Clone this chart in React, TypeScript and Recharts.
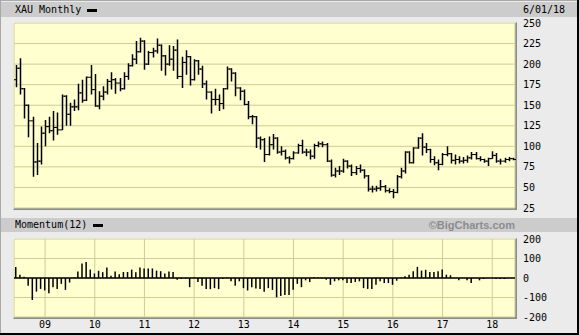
import { Bar, BarChart, CartesianGrid, ComposedChart, ReferenceLine, XAxis, YAxis } from "recharts";

// monthly bars, Jun 2008 .. Jun 2018
const months = [
  "2008-06", "2008-07", "2008-08", "2008-09", "2008-10", "2008-11", "2008-12",
  "2009-01", "2009-02", "2009-03", "2009-04", "2009-05", "2009-06", "2009-07", "2009-08", "2009-09", "2009-10", "2009-11", "2009-12",
  "2010-01", "2010-02", "2010-03", "2010-04", "2010-05", "2010-06", "2010-07", "2010-08", "2010-09", "2010-10", "2010-11", "2010-12",
  "2011-01", "2011-02", "2011-03", "2011-04", "2011-05", "2011-06", "2011-07", "2011-08", "2011-09", "2011-10", "2011-11", "2011-12",
  "2012-01", "2012-02", "2012-03", "2012-04", "2012-05", "2012-06", "2012-07", "2012-08", "2012-09", "2012-10", "2012-11", "2012-12",
  "2013-01", "2013-02", "2013-03", "2013-04", "2013-05", "2013-06", "2013-07", "2013-08", "2013-09", "2013-10", "2013-11", "2013-12",
  "2014-01", "2014-02", "2014-03", "2014-04", "2014-05", "2014-06", "2014-07", "2014-08", "2014-09", "2014-10", "2014-11", "2014-12",
  "2015-01", "2015-02", "2015-03", "2015-04", "2015-05", "2015-06", "2015-07", "2015-08", "2015-09", "2015-10", "2015-11", "2015-12",
  "2016-01", "2016-02", "2016-03", "2016-04", "2016-05", "2016-06", "2016-07", "2016-08", "2016-09", "2016-10", "2016-11", "2016-12",
  "2017-01", "2017-02", "2017-03", "2017-04", "2017-05", "2017-06", "2017-07", "2017-08", "2017-09", "2017-10", "2017-11", "2017-12",
  "2018-01", "2018-02", "2018-03", "2018-04", "2018-05", "2018-06",
];

const opens = [
  181, 195, 170, 150, 131, 81, 82,
  116, 124, 119, 123, 120, 161, 139, 148, 148, 165, 156, 184,
  169, 149, 161, 166, 179, 181, 177, 170, 185, 198, 206, 215,
  228, 200, 214, 216, 223, 210, 200, 206, 217, 185, 202, 209,
  181, 204, 194, 176, 166, 157, 157, 152, 170, 194, 189, 171,
  167, 151, 136, 136, 110, 108, 90, 102, 110, 93, 94, 86,
  85, 92, 101, 93, 93, 88, 101, 103, 102, 82, 65, 70,
  70, 82, 76, 68, 73, 71, 64, 48, 48, 49, 51, 46,
  45, 44, 63, 70, 93, 80, 98, 110, 99, 96, 84, 80,
  78, 90, 91, 83, 84, 82, 83, 86, 90, 85, 84, 82,
  85, 89, 82, 82, 84, 85,
];
const highs = [
  199, 207, 171, 151, 136, 104, 124,
  132, 136, 143, 141, 163, 162, 153, 157, 176, 181, 185, 199,
  188, 167, 173, 182, 190, 183, 183, 190, 201, 212, 228, 232,
  229, 216, 220, 231, 224, 211, 223, 222, 230, 209, 217, 210,
  206, 205, 198, 180, 167, 170, 163, 171, 197, 195, 190, 172,
  169, 155, 138, 137, 112, 110, 112, 115, 111, 100, 96, 88,
  94, 103, 108, 97, 96, 103, 106, 106, 104, 84, 74, 76,
  85, 83, 78, 76, 78, 72, 65, 52, 52, 59, 53, 49,
  48, 65, 74, 94, 94, 99, 111, 116, 104, 97, 88, 84,
  92, 100, 92, 90, 88, 87, 89, 93, 93, 88, 85, 86,
  94, 92, 85, 86, 87, 86,
];
const lows = [
  172, 163, 134, 111, 63, 65, 78,
  100, 116, 107, 114, 120, 125, 125, 143, 144, 153, 155, 163,
  148, 145, 156, 163, 169, 164, 167, 169, 181, 197, 200, 214,
  193, 199, 208, 213, 192, 186, 198, 192, 182, 171, 187, 174,
  180, 187, 171, 157, 140, 150, 143, 145, 169, 179, 161, 156,
  150, 133, 127, 98, 96, 81, 89, 96, 91, 89, 84, 79,
  84, 91, 91, 88, 84, 85, 99, 99, 81, 63, 62, 65,
  68, 73, 64, 65, 68, 61, 45, 44, 45, 46, 44, 43,
  37, 43, 61, 67, 79, 79, 97, 89, 92, 80, 77, 71,
  77, 88, 79, 78, 79, 79, 80, 84, 84, 82, 80, 76,
  85, 80, 78, 80, 82, 83,
];
const closes = [
  195, 170, 150, 131, 81, 82, 116,
  124, 119, 123, 120, 161, 139, 148, 148, 165, 156, 184, 169,
  149, 161, 166, 179, 181, 177, 170, 185, 198, 206, 215, 228,
  200, 214, 216, 223, 210, 200, 206, 217, 185, 202, 209, 181,
  204, 194, 176, 166, 157, 157, 152, 170, 194, 189, 171, 167,
  151, 136, 136, 110, 108, 90, 102, 110, 93, 94, 86, 85,
  92, 101, 93, 93, 88, 101, 103, 102, 82, 65, 70, 70,
  82, 76, 68, 73, 71, 64, 48, 48, 49, 51, 46, 45,
  44, 63, 70, 93, 80, 98, 110, 99, 96, 84, 80, 78,
  90, 91, 83, 84, 82, 83, 86, 90, 85, 84, 82, 85,
  89, 82, 82, 84, 85, 84,
];

// Momentum(12)
const momentum = [
  56, 17, 7, -40, -113, -70, -56,
  -64, -78, -47, -56, -30, -61, -23, 2, 33, 75, 82, 43,
  23, 37, 30, 54, 12, 33, 19, 31, 31, 43, 30, 54,
  49, 49, 49, 38, 35, 23, 33, 31, -9, -5, -3, -47,
  2, -21, -40, -57, -57, -52, -57, -5, 3, -17, -40, -17,
  -52, -64, -47, -54, -56, -70, -52, -61, -99, -92, -87, -87,
  -60, -30, -47, -12, -21, 5, 2, -2, -9, -35, -17, -12,
  -12, -26, -26, -21, -17, -52, -56, -56, -35, -17, -26, -26,
  -35, -14, 3, 9, 17, 35, 57, 38, 42, 31, 31, 35,
  43, 17, 14, 0, -12, 0, -12, -26, 0, -12, -5, 0,
  0, -5, -5, -5, 0, 0,
];

const yearTicks = ["2009-01", "2010-01", "2011-01", "2012-01", "2013-01", "2014-01", "2015-01", "2016-01", "2017-01", "2018-01"];
const priceTicks = [25, 50, 75, 100, 125, 150, 175, 200, 225, 250];
const momTicks = [-200, -100, 0, 100, 200];

const rows = months.map((month, i) => ({
  month,
  open: opens[i],
  high: highs[i],
  low: lows[i],
  close: closes[i],
  momentum: momentum[i],
}));

const MONO = "'DejaVu Sans Mono', monospace";
const GRID = "#cdcd95";
const PLOT_BG = "#ffffd0";
const tickStyle = { fontSize: 10, fontFamily: MONO, fill: "#000" };

// vertical hi-lo line, open tick on the left, close tick on the right
function OhlcBar(props: any) {
  const { x, y, width, height, payload } = props;
  if (payload == null || height == null) return null;
  const cx = Math.round(x + width / 2) + 0.5;
  const span = payload.high - payload.low || 1;
  const yo = y + ((payload.high - payload.open) / span) * height;
  const yc = y + ((payload.high - payload.close) / span) * height;
  return (
    <g>
      <line x1={cx} x2={cx} y1={y} y2={y + height} stroke="#000" strokeWidth={1.5} />
      <line x1={cx - 2.5} x2={cx} y1={yo} y2={yo} stroke="#000" strokeWidth={1} />
      <line x1={cx} x2={cx + 2.5} y1={yc} y2={yc} stroke="#000" strokeWidth={1} />
    </g>
  );
}

function Dash({ left }: { left: number }) {
  return <span style={{ display: "inline-block", width: 10, height: 3, background: "#000", marginLeft: left, verticalAlign: "middle" }} />;
}

export default function App() {
  return (
    <div style={{ position: "absolute", left: 0, top: 0, width: 579, height: 335, background: "#ebebeb", overflow: "hidden", fontFamily: MONO }}>
      {/* outer frame */}
      <div style={{ position: "absolute", left: 0, top: 0, width: 579, height: 1, background: "#a8a8a8" }} />
      <div style={{ position: "absolute", left: 0, top: 0, width: 1, height: 335, background: "#a8a8a8" }} />
      <div style={{ position: "absolute", left: 577, top: 0, width: 2, height: 335, background: "#000" }} />
      <div style={{ position: "absolute", left: 0, top: 333, width: 579, height: 2, background: "#000" }} />

      {/* headers */}
      <div style={{ position: "absolute", left: 1, top: 2, width: 576, height: 15, background: "#cccccc" }} />
      <div style={{ position: "absolute", left: 15, top: 2, height: 15, lineHeight: "15px", fontSize: 10, color: "#000", whiteSpace: "pre" }}>
        XAU Monthly<Dash left={6} />
      </div>
      <div style={{ position: "absolute", left: 523, top: 2, height: 15, lineHeight: "15px", fontSize: 10, color: "#000" }}>6/01/18</div>

      <div style={{ position: "absolute", left: 1, top: 218, width: 576, height: 14, background: "#cccccc" }} />
      <div style={{ position: "absolute", left: 15, top: 218, height: 14, lineHeight: "14px", fontSize: 10, color: "#000", whiteSpace: "pre" }}>
        Momentum(12)<Dash left={6} />
      </div>
      <div style={{ position: "absolute", right: 64, top: 218, height: 14, lineHeight: "14px", fontSize: 11, fontWeight: "bold", fontFamily: "'Liberation Sans', Arial, sans-serif", color: "#8c8c8c" }}>
        ©BigCharts.com
      </div>

      {/* plot wells */}
      <div style={{ position: "absolute", left: 13, top: 22, width: 504, height: 188, boxSizing: "border-box", background: PLOT_BG, borderTop: "1px solid #fff", borderLeft: "1px solid #fff", borderRight: "2px solid #8c8c8c", borderBottom: "2px solid #8c8c8c" }} />
      <div style={{ position: "absolute", left: 13, top: 238, width: 504, height: 81, boxSizing: "border-box", background: PLOT_BG, borderTop: "1px solid #fff", borderLeft: "1px solid #fff", borderRight: "2px solid #8c8c8c", borderBottom: "2px solid #8c8c8c" }} />

      {/* price panel */}
      <div style={{ position: "absolute", left: 0, top: 0 }}>
        <ComposedChart width={579} height={216} data={rows} margin={{ top: 23, right: 0, left: 14, bottom: 8 }} barCategoryGap={0}>
          <CartesianGrid stroke={GRID} strokeWidth={1} />
          <XAxis dataKey="month" ticks={yearTicks} interval={0} height={0} tick={false} axisLine={false} tickLine={false} />
          <YAxis
            orientation="right"
            type="number"
            domain={[25, 250]}
            ticks={priceTicks}
            interval={0}
            width={64}
            axisLine={false}
            tickLine={false}
            tickSize={0}
            tickMargin={8}
            tick={tickStyle}
            allowDataOverflow
          />
          <Bar dataKey={(d: any) => [d.low, d.high]} shape={<OhlcBar />} isAnimationActive={false} />
        </ComposedChart>
      </div>

      {/* momentum panel */}
      <div style={{ position: "absolute", left: 0, top: 230 }}>
        <BarChart width={579} height={105} data={rows} margin={{ top: 9, right: 0, left: 14, bottom: 0 }} barCategoryGap={0}>
          <CartesianGrid stroke={GRID} strokeWidth={1} />
          <XAxis
            dataKey="month"
            ticks={yearTicks}
            interval={0}
            height={18}
            axisLine={false}
            tickLine={false}
            tickSize={0}
            tickMargin={4}
            tick={tickStyle}
            tickFormatter={(m: string) => m.slice(2, 4)}
          />
          <YAxis
            orientation="right"
            type="number"
            domain={[-200, 200]}
            ticks={momTicks}
            interval={0}
            width={64}
            axisLine={false}
            tickLine={false}
            tickSize={0}
            tickMargin={8}
            tick={tickStyle}
            allowDataOverflow
          />
          <ReferenceLine y={0} stroke="#000" strokeWidth={1.5} />
          <Bar dataKey="momentum" fill="#000" barSize={1.5} isAnimationActive={false} />
        </BarChart>
      </div>
    </div>
  );
}
